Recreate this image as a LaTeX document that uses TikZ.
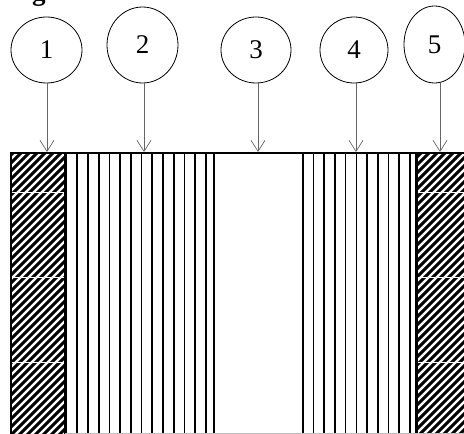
\documentclass[tikz,border=0pt]{standalone}
\usepackage{fontspec}
\setmainfont{Liberation Serif}
\usetikzlibrary{shapes.geometric,arrows.meta}
\begin{document}
\begin{tikzpicture}[x=1pt,y=-1pt,
  circ/.style={ellipse, draw, line width=0.8pt, inner sep=0pt, font=\fontsize{27}{30}\selectfont},
  arr/.style={draw=black!60, line width=0.7pt, -{Straight Barb[length=11pt,width=14pt,line width=0.7pt]}},
  vline/.style={line width=1.7pt},
  bline/.style={line width=2.2pt},
  hatch/.style={line width=3.1pt},
  seam/.style={white, line width=0.5pt}]
\useasboundingbox (0,0) rectangle (464,434);
% clipped title fragment
\node[anchor=base west, inner sep=0pt, font=\fontsize{27}{30}\selectfont\bfseries] (title) at (32,0) {g};
% circles
\node[circ, minimum width=71pt, minimum height=66pt] (c1) at (46.5,50) {1};
\node[circ, minimum width=71pt, minimum height=76pt] (c2) at (142.5,45) {2};
\node[circ, minimum width=70pt, minimum height=66pt] (c3) at (256,50) {3};
\node[circ, minimum width=68pt, minimum height=66pt] (c4) at (354,50) {4};
\node[circ, minimum width=61pt, minimum height=77pt] (c5) at (434.5,44.5) {5};
% hatched regions
\begin{scope}
  \clip (11,153) rectangle (64.5,434) (417,153) rectangle (464,434);
  \foreach \c in {150,158,...,910} { \draw[hatch] (0,\c) -- (\c,0); }
  \foreach \y in {192.7,277.2,362.7} {
    \draw[seam] (11,\y) -- (64.5,\y);
    \draw[seam] (417,\y) -- (464,\y);
  }
\end{scope}
\draw[line width=1.5pt] (11,153) -- (11,434);
% vertical line regions
\draw[bline] (65.5,153) -- (65.5,434);
\foreach \i in {0,...,12} { \draw[vline] ({77.3+\i*10.72},153) -- ({77.3+\i*10.72},434); }
\draw[bline] (214,153) -- (214,434);
\draw[bline] (302.7,153) -- (302.7,434);
\foreach \i in {1,...,10} { \draw[vline] ({302.7+\i*10.73},153) -- ({302.7+\i*10.73},434); }
\draw[bline] (416.5,153) -- (416.5,434);
% top edge and faint bottom edge
\draw[line width=1.8pt] (10.3,153) -- (464,153);
\draw[black!25, line width=0.8pt] (65,433.5) -- (464,433.5);
% arrow targets
\coordinate (a1) at (47,152);
\coordinate (a2) at (144,152);
\coordinate (a3) at (258,152);
\coordinate (a4) at (356,152);
\coordinate (a5) at (440,152);
\draw[arr] (a1 |- c1.south) -- (a1);
\draw[arr] (a2 |- c2.south) -- (a2);
\draw[arr] (a3 |- c3.south) -- (a3);
\draw[arr] (a4 |- c4.south) -- (a4);
\draw[arr] (a5 |- c5.south) -- (a5);
\end{tikzpicture}
\end{document}
